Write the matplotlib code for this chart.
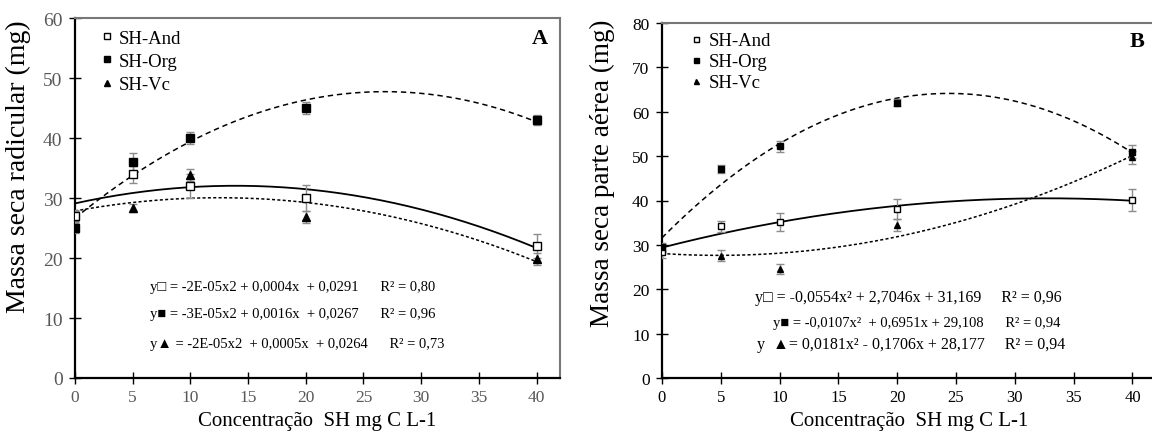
import numpy as np
import matplotlib
matplotlib.use('Agg')
import matplotlib.pyplot as plt

plt.rcParams['font.family'] = ['Liberation Serif', 'DejaVu Sans']

conc = [0, 5, 10, 20, 40]

# A - massa seca radicular (mg)
raiz_and = [27, 34, 32, 30, 22]
raiz_and_err = [1.0, 1.4, 2.0, 2.2, 2.0]
raiz_org = [25, 36, 40, 45, 43]
raiz_org_err = [0.8, 1.6, 1.0, 1.0, 0.8]
raiz_vc = [27, 28.4, 33.8, 26.8, 19.8]
raiz_vc_err = [0.8, 0.7, 1.0, 1.0, 1.0]

# B - massa seca parte aerea (mg)
aerea_and = [28.3, 34.2, 35.1, 38.1, 40.1]
aerea_and_err = [1.2, 1.2, 2.0, 2.3, 2.4]
aerea_org = [29.5, 47.1, 52.2, 62.0, 51.0]
aerea_org_err = [0.8, 0.8, 1.3, 0.8, 1.5]
aerea_vc = [29.4, 27.6, 24.6, 34.5, 49.7]
aerea_vc_err = [1.0, 1.2, 1.1, 1.3, 1.4]

labels = ['SH-And', 'SH-Org', 'SH-Vc']
eqs_a = ['y\u25a1 = -2E-05x2 + 0,0004x  + 0,0291      R\u00b2 = 0,80',
         'y\u25a0 = -3E-05x2 + 0,0016x  + 0,0267      R\u00b2 = 0,96',
         'y\u25b2 = -2E-05x2  + 0,0005x  + 0,0264      R\u00b2 = 0,73']
eqs_b = ['y\u25a1 = -0,0554x\u00b2 + 2,7046x + 31,169     R\u00b2 = 0,96',
         'y\u25a0 = -0,0107x\u00b2  + 0,6951x + 29,108      R\u00b2 = 0,94',
         'y  \u25b2= 0,0181x\u00b2 - 0,1706x + 28,177     R\u00b2 = 0,94']

fig = plt.figure(figsize=(11.52, 4.35), dpi=100)
axA = fig.add_axes([75 / 1152, 56 / 435, 484.6 / 1152, 359.7 / 435])
axB = fig.add_axes([662 / 1152, 56 / 435, 494 / 1152, 355 / 435])

xs = np.linspace(0, 40, 200)


def panel(ax, series, ms, styles, tick_color, ymax, step, ysize, xsize):
    for (y, err, mk, fc), st in zip(series, styles):
        c = np.polyfit(conc, y, 2)
        ax.plot(xs, np.polyval(c, xs), color='black', lw=st[0], ls=st[1], zorder=2)
    for i, (y, err, mk, fc) in enumerate(series):
        ax.errorbar(conc, y, yerr=err, fmt='none', ecolor='#8c8c8c', elinewidth=1,
                    capsize=3, capthick=1, zorder=3)
    handles = []
    for i, (y, err, mk, fc) in enumerate(series):
        h, = ax.plot(conc, y, ls='none', marker=mk, ms=ms, mfc=fc, mec='black',
                     mew=1, zorder=5 - (i == 2) * 0.5, label=labels[i])
        handles.append(h)
    ax.set_xlim(0, 42)
    ax.set_ylim(0, ymax)
    ax.set_xticks(range(0, 41, 5))
    ax.set_yticks(range(0, ymax + 1, step))
    ax.tick_params(direction='inout', length=8, width=1, colors='black')
    ax.tick_params(axis='both', labelcolor=tick_color)
    ax.tick_params(axis='y', pad=5, labelsize=ysize)
    ax.tick_params(axis='x', pad=4, labelsize=xsize)
    ax.spines['left'].set_linewidth(1.6)
    ax.spines['bottom'].set_linewidth(1.6)
    for s in ('top', 'right'):
        ax.spines[s].set_color('#777777')
        ax.spines[s].set_linewidth(1.5)
    ax.set_xlabel('Concentração  SH mg C L-1', fontsize=15, labelpad=4)
    return handles


styles = [(1.3, '-'), (1.1, (0, (3.5, 2.5))), (1.1, (0, (2, 1.5)))]

hA = panel(axA, [(raiz_and, raiz_and_err, 's', 'white'),
                 (raiz_org, raiz_org_err, 's', 'black'),
                 (raiz_vc, raiz_vc_err, '^', 'black')],
           6, styles, '#595959', 60, 10, 14, 12.5)
axA.set_ylabel('Massa seca radicular (mg)', fontsize=20)
axA.yaxis.set_label_coords(-0.09, 0.59)
axA.legend(handles=hA, loc='upper left', bbox_to_anchor=(0.04, 0.99), frameon=False,
           fontsize=13.5, handlelength=0.5, handletextpad=0.4, labelspacing=0.33,
           markerscale=0.7, borderaxespad=0)
axA.text(40.3, 56.7, 'A', ha='center', va='center', fontsize=16, fontweight='bold')
for t, yv in zip(eqs_a, [15.3, 10.7, 5.8]):
    axA.text(6.5, yv, t, fontsize=10.5, va='center', ha='left')

hB = panel(axB, [(aerea_and, aerea_and_err, 's', 'white'),
                 (aerea_org, aerea_org_err, 's', 'black'),
                 (aerea_vc, aerea_vc_err, '^', 'black')],
           4, styles, 'black', 80, 10, 12.5, 12)
axB.set_ylabel('Massa seca parte aérea (mg)', fontsize=19.5)
axB.yaxis.set_label_coords(-0.095, 0.58)
axB.legend(handles=hB, loc='upper left', bbox_to_anchor=(0.045, 0.995), frameon=False,
           fontsize=13.5, handlelength=0.5, handletextpad=0.4, labelspacing=0.2,
           markerscale=0.9, borderaxespad=0)
axB.text(40.4, 75.9, 'B', ha='center', va='center', fontsize=16, fontweight='bold')
for t, yv, xv, fs in zip(eqs_b, [18.3, 12.4, 7.6], [7.9, 9.4, 8.1], [11.5, 10.5, 11.5]):
    axB.text(xv, yv, t, fontsize=fs, va='center', ha='left')

fig.savefig('out.png', dpi=100)
